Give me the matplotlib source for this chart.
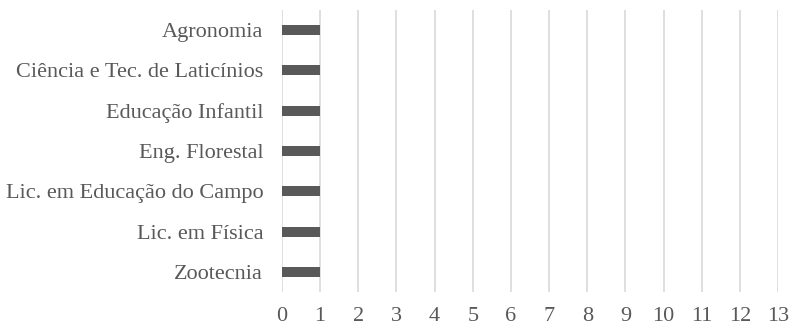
import matplotlib
matplotlib.use("Agg")
import matplotlib.pyplot as plt

cursos = [
    "Agronomia",
    "Ciência e Tec. de Laticínios",
    "Educação Infantil",
    "Eng. Florestal",
    "Lic. em Educação do Campo",
    "Lic. em Física",
    "Zootecnia",
]
quantidade = [1, 1, 1, 1, 1, 1, 1]
ticks_x = list(range(0, 14))

plt.rcParams["font.family"] = ["Liberation Serif", "DejaVu Serif"]

fig = plt.figure(figsize=(7.9, 3.26), dpi=100)
ax = fig.add_axes([282 / 790, 1 - 292 / 326, (778 - 282) / 790, 282 / 326])

pos = list(range(len(cursos)))
ax.barh(pos, quantidade, height=0.25, color="#595959", zorder=3)
ax.set_yticks(pos)
ax.set_yticklabels(cursos)
ax.set_ylim(len(cursos) - 0.5, -0.5)
ax.set_xlim(0, 13)
ax.set_xticks(ticks_x)
ax.grid(axis="x", color="#d9d9d9", linewidth=1.2, zorder=0)
for s in ax.spines.values():
    s.set_visible(False)
ax.tick_params(axis="both", length=0, labelsize=16, colors="#595959")
ax.tick_params(axis="y", pad=13.5)
ax.tick_params(axis="x", pad=11)

fig.savefig("out.png", dpi=100)
